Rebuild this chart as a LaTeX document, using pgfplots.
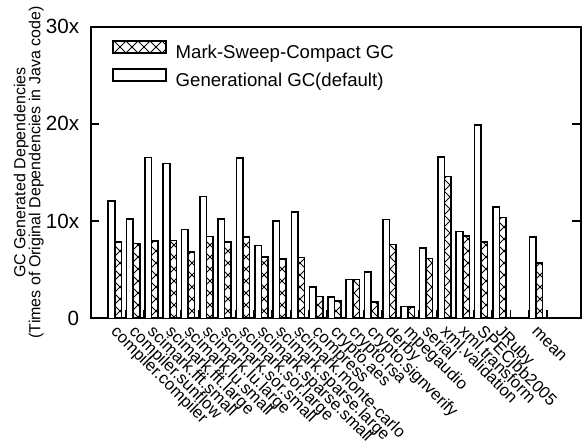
\documentclass[border=0pt]{standalone}
\usepackage{fontspec}
\setmainfont{Liberation Sans}
\usepackage{pgfplots}
\pgfplotsset{compat=1.18}
\usetikzlibrary{patterns}

% X crosshatch, 45 degree lines
\pgfdeclarepatternformonly{gpx}{\pgfqpoint{-0.1pt}{-0.1pt}}{\pgfqpoint{6.1pt}{6.1pt}}{\pgfqpoint{6pt}{6pt}}{%
  \pgfsetlinewidth{0.5pt}%
  \pgfpathmoveto{\pgfqpoint{0pt}{0pt}}\pgfpathlineto{\pgfqpoint{6pt}{6pt}}%
  \pgfpathmoveto{\pgfqpoint{0pt}{6pt}}\pgfpathlineto{\pgfqpoint{6pt}{0pt}}%
  \pgfusepath{stroke}}

\pgfplotsset{boxlegend/.style={legend image code/.code={%
  \draw[##1, line width=0.8pt] (0pt,0pt) rectangle (26.5pt,6.15pt);}}}

\begin{document}
\begin{tikzpicture}
\begin{axis}[
  scale only axis, width=245.15pt, height=145.8pt,
  xmin=-0.918, xmax=25.86, ymin=0, ymax=30,
  ybar, bar width=0.36,
  axis line style={line width=0.9pt},
  tick style={line width=0.8pt, black},
  tick align=inside, major tick length=4.3pt,
  xtick pos=left,
  xtick={0,...,24},
  xticklabels={compiler.compiler, compiler.sunflow, scimark.fft.small,
    scimark.fft.large, scimark.lu.small, scimark.lu.large, scimark.sor.small,
    scimark.sor.large, scimark.sparse.small, scimark.sparse.large,
    scimark.monte-carlo, compress, crypto.aes, crypto.rsa, crypto.signverify,
    derby, mpegaudio, serial, xml.validation, xml.transform, SPECjbb2005,
    JRuby, {}, mean, {}},
  xticklabel style={font=\fontsize{8.3}{10}\selectfont, xshift=1.25pt,
    yshift=-7.2pt, rotate=-45, anchor=base west, inner sep=0pt},
  ytick={0,10,20,30}, yticklabels={0,10x,20x,30x},
  /pgf/number format/assume math mode=true,
  yticklabel style={font=\fontsize{10.3}{12}\selectfont, inner sep=0pt,
    xshift=-5.6pt},
  ylabel={GC Generated Dependencies\\(Times of Original Dependencies in Java code)},
  ylabel style={align=center, font=\fontsize{8}{7.5}\selectfont,
    at={(axis description cs:-0.095,0.5)}, anchor=south, inner sep=0pt},
  legend style={at={(0,1)}, anchor=north west, xshift=10.6pt, yshift=-6.65pt,
    draw=none, fill=none, inner sep=0pt, outer sep=0pt, row sep=3pt,
    column sep=4.6pt, font=\fontsize{9.3}{11}\selectfont,
    nodes={inner sep=0pt, text height=7pt, text depth=2pt}},
  legend cell align=left,
]
\addplot[draw=black, line width=0.8pt, pattern=gpx, bar shift=0.58, boxlegend]
  coordinates {(0,7.85) (1,7.71) (2,7.95) (3,7.99) (4,6.82) (5,8.43)
  (6,7.82) (7,8.36) (8,6.31) (9,6.07) (10,6.24) (11,2.23) (12,1.75)
  (13,4.00) (14,1.65) (15,7.58) (16,1.17) (17,6.17) (18,14.60) (19,8.47)
  (20,7.82) (21,10.39) (23,5.69)};
\addlegendentry{Mark-Sweep-Compact GC}
\addplot[draw=black, line width=0.8pt, fill=white, bar shift=0.22, boxlegend]
  coordinates {(0,12.07) (1,10.22) (2,16.56) (3,15.94) (4,9.15) (5,12.55)
  (6,10.22) (7,16.49) (8,7.51) (9,10.01) (10,10.94) (11,3.19) (12,2.19)
  (13,4.00) (14,4.78) (15,10.15) (16,1.23) (17,7.23) (18,16.59) (19,8.95)
  (20,19.90) (21,11.45) (23,8.36)};
\addlegendentry{Generational GC(default)}
\end{axis}
\pgfresetboundingbox
\path[use as bounding box] ([shift={(-45.35pt,-62.35pt)}]current axis.south west)
  rectangle ([shift={(0.5pt,13.35pt)}]current axis.north east);
\end{tikzpicture}
\end{document}
